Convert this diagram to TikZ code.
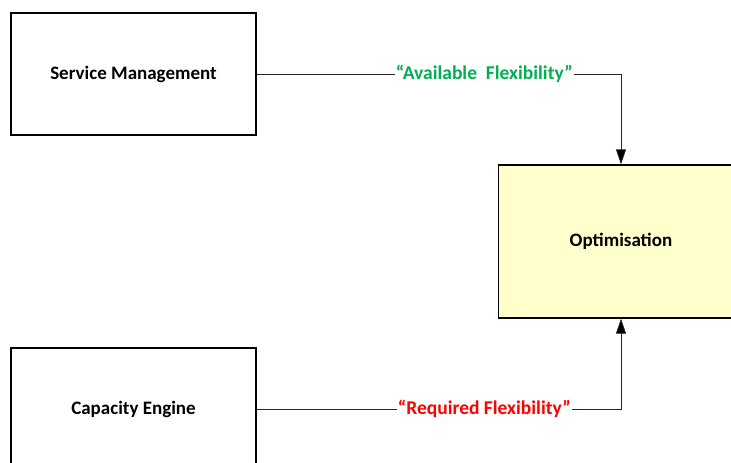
\documentclass[tikz,border=0pt]{standalone}
\usepackage{fontspec}
\setmainfont{Carlito}
\usepackage{xcolor}
\usetikzlibrary{arrows.meta, positioning}
\definecolor{optfill}{RGB}{255,255,204}
\definecolor{flexgreen}{RGB}{0,176,80}
\definecolor{flexred}{RGB}{255,0,0}
\tikzset{
  block/.style={draw=black, line width=1.3pt, minimum width=245pt, minimum height=122pt,
    font=\fontsize{19}{22}\selectfont\bfseries},
  flow/.style={draw=black!85, line width=0.8pt, -{Triangle[length=15pt,width=10pt,fill=black]}},
  flexlabel/.style={fill=white, inner sep=1pt, font=\fontsize{19.5}{22}\selectfont\bfseries}
}

\begin{document}
\begin{tikzpicture}[x=1pt, y=-1pt]
\useasboundingbox (0,0) rectangle (731,463);
\clip (0,0) rectangle (731,463);
\node[block] (svc) at (133.5,74) {Service Management};
\node[block] (cap) at (133.5,409) {Capacity Engine};
\node[block, fill=optfill, minimum height=153pt] (opt) at (621,241.5) {Optimisation};
\draw[flow] (svc.east) -- node[flexlabel, pos=0.625, text=flexgreen]{``Available\ \ Flexibility''} (svc.east -| opt.north) -- (opt.north);
\draw[flow] (cap.east) -- node[flexlabel, pos=0.625, text=flexred]{``Required Flexibility''} (cap.east -| opt.south) -- (opt.south);
\end{tikzpicture}
\end{document}
